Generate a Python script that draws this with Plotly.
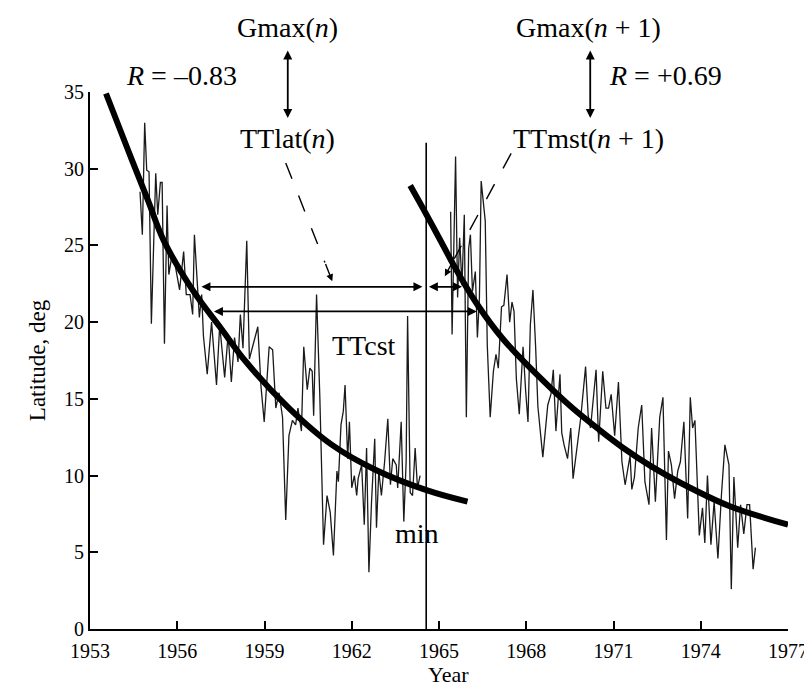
import plotly.graph_objects as go

# ---------------- data ----------------
cycle_a_year = [1954.72, 1954.80, 1954.88, 1954.95, 1955.03, 1955.11, 1955.26, 1955.33, 1955.42, 1955.48,
                1955.56, 1955.65, 1955.71, 1955.82, 1955.93, 1956.08, 1956.22, 1956.31, 1956.44, 1956.53,
                1956.59, 1956.69, 1956.76, 1956.84, 1956.90, 1957.03, 1957.18, 1957.35, 1957.46, 1957.63,
                1957.75, 1957.86, 1957.97, 1958.09, 1958.17, 1958.26, 1958.39, 1958.48, 1958.62, 1958.77,
                1958.88, 1958.99, 1959.16, 1959.28, 1959.39, 1959.50, 1959.62, 1959.73, 1959.84, 1959.96,
                1960.07, 1960.15, 1960.27, 1960.35, 1960.47, 1960.56, 1960.64, 1960.69, 1960.79, 1960.90,
                1961.03, 1961.15, 1961.26, 1961.37, 1961.49, 1961.54, 1961.63, 1961.71, 1961.77, 1961.86,
                1961.92, 1962.00, 1962.09, 1962.17, 1962.22, 1962.34, 1962.43, 1962.51, 1962.59, 1962.68,
                1962.79, 1962.85, 1962.93, 1963.02, 1963.13, 1963.24, 1963.33, 1963.41, 1963.53, 1963.58,
                1963.70, 1963.79, 1963.87, 1963.92, 1964.01, 1964.09, 1964.18, 1964.26, 1964.35]
cycle_a_lat = [28.5, 25.7, 33.0, 29.9, 29.8, 19.9, 29.7, 27.0, 29.1, 29.1,
               18.6, 27.6, 23.1, 24.4, 23.7, 22.1, 24.6, 21.8, 21.8, 20.5,
               25.7, 22.6, 20.3, 21.8, 19.1, 16.6, 20.0, 15.9, 19.8, 16.4,
               19.2, 16.1, 19.0, 17.4, 20.5, 18.3, 25.3, 17.6, 18.6, 19.7,
               15.8, 13.5, 18.4, 18.2, 14.4, 15.4, 13.8, 7.1, 12.6, 13.6,
               13.3, 14.4, 12.9, 18.4, 15.6, 17.0, 16.8, 13.9, 21.8, 15.3,
               5.5, 8.7, 7.6, 4.8, 10.3, 9.6, 13.3, 14.2, 15.9, 11.1,
               13.5, 9.2, 10.0, 8.7, 9.8, 10.7, 6.8, 11.8, 3.7, 8.3,
               12.4, 6.6, 10.3, 8.7, 10.9, 13.7, 9.4, 11.1, 10.7, 9.2,
               13.5, 7.0, 10.9, 20.4, 8.9, 8.7, 11.8, 9.2, 10.0]

cycle_b_year = [1965.40, 1965.45, 1965.57, 1965.64, 1965.71, 1965.79, 1965.87, 1965.94, 1966.02, 1966.08,
                1966.15, 1966.25, 1966.32, 1966.39, 1966.45, 1966.53, 1966.59, 1966.66, 1966.76, 1966.87,
                1966.96, 1967.04, 1967.15, 1967.23, 1967.34, 1967.43, 1967.51, 1967.58, 1967.66, 1967.76,
                1967.89, 1967.98, 1968.06, 1968.14, 1968.23, 1968.32, 1968.40, 1968.57, 1968.74, 1968.85,
                1968.93, 1969.02, 1969.16, 1969.22, 1969.30, 1969.42, 1969.53, 1969.61, 1969.76, 1969.87,
                1970.04, 1970.13, 1970.21, 1970.30, 1970.40, 1970.49, 1970.63, 1970.74, 1970.83, 1970.92,
                1971.04, 1971.17, 1971.29, 1971.40, 1971.57, 1971.63, 1971.72, 1971.85, 1971.97, 1972.08,
                1972.22, 1972.31, 1972.40, 1972.44, 1972.59, 1972.70, 1972.82, 1972.89, 1972.99, 1973.10,
                1973.21, 1973.30, 1973.42, 1973.55, 1973.64, 1973.72, 1973.80, 1973.95, 1974.06, 1974.14,
                1974.23, 1974.35, 1974.46, 1974.59, 1974.71, 1974.83, 1974.97, 1975.05, 1975.14, 1975.27,
                1975.37, 1975.48, 1975.59, 1975.68, 1975.80, 1975.88]
cycle_b_lat = [27.2, 19.2, 30.8, 21.6, 25.5, 22.4, 27.0, 13.8, 24.8, 25.7,
               22.0, 23.3, 19.0, 21.6, 29.2, 27.9, 26.6, 18.5, 13.8, 16.8,
               17.9, 17.0, 21.0, 21.1, 23.1, 20.0, 21.3, 20.7, 16.3, 14.0,
               18.4, 15.5, 13.5, 19.8, 22.1, 18.5, 14.5, 11.2, 14.6, 15.3,
               16.9, 12.9, 16.6, 12.8, 12.0, 11.1, 13.1, 9.8, 12.2, 13.7,
               17.1, 13.9, 13.1, 15.0, 16.9, 12.2, 16.8, 14.4, 14.4, 15.3,
               12.6, 16.1, 10.9, 9.4, 11.3, 9.1, 9.9, 13.1, 14.6, 9.6,
               8.1, 13.1, 10.3, 8.3, 13.8, 15.1, 5.8, 11.6, 10.7, 8.5,
               10.3, 10.9, 13.5, 7.2, 15.1, 13.1, 13.6, 6.1, 7.9, 5.6,
               10.0, 5.5, 8.3, 4.6, 8.7, 12.0, 10.7, 2.6, 9.9, 5.3,
               8.1, 6.2, 8.1, 8.1, 3.9, 5.3]

fit_a_year = [1953.55, 1954.29, 1955.00, 1955.54, 1956.56, 1957.50, 1958.37, 1959.84, 1961.32, 1962.79, 1964.57, 1965.98]
fit_a_lat = [34.9, 31.3, 27.9, 25.3, 22.0, 19.6, 17.4, 14.4, 12.0, 10.4, 9.05, 8.3]

fit_b_year = [1964.01, 1964.57, 1965.17, 1965.51, 1966.30, 1967.20, 1968.57, 1969.59, 1970.50, 1971.30, 1972.30, 1973.33, 1975.00, 1977.00]
fit_b_lat = [28.9, 27.0, 24.9, 23.7, 21.2, 18.9, 16.2, 14.4, 13.0, 11.85, 10.6, 9.5, 8.0, 6.8]

min_year = 1964.56          # cycle minimum (vertical line)
min_line_top = 31.7

x_ticks = [1953, 1956, 1959, 1962, 1965, 1968, 1971, 1974, 1977]
y_ticks = [0, 5, 10, 15, 20, 25, 30, 35]

# interval arrows (year ranges at given latitude)
ttlat_lat = 22.3
ttlat_span = (1956.78, 1964.43)
ttmst_span = (1964.60, 1965.79)
ttcst_lat = 20.7
ttcst_span = (1957.21, 1966.30)

gmax_n_year = 1959.80
gmax_n1_year = 1970.20

# ---------------- figure ----------------
FONT = "Liberation Serif"
L_MARGIN, R_MARGIN, T_MARGIN, B_MARGIN = 82, 24, 84, 66
fig = go.Figure()

fig.add_trace(go.Scatter(x=cycle_a_year, y=cycle_a_lat, mode="lines",
                         line=dict(color="#1a1a1a", width=1.3), hoverinfo="skip"))
fig.add_trace(go.Scatter(x=cycle_b_year, y=cycle_b_lat, mode="lines",
                         line=dict(color="#1a1a1a", width=1.3), hoverinfo="skip"))
fig.add_trace(go.Scatter(x=fit_a_year, y=fit_a_lat, mode="lines",
                         line=dict(color="black", width=6, shape="spline", smoothing=1.0), hoverinfo="skip"))
fig.add_trace(go.Scatter(x=fit_b_year, y=fit_b_lat, mode="lines",
                         line=dict(color="black", width=6, shape="spline", smoothing=1.0), hoverinfo="skip"))
fig.add_trace(go.Scatter(x=[min_year, min_year], y=[0, min_line_top], mode="lines",
                         line=dict(color="black", width=1.6), hoverinfo="skip"))

annotations = []


def double_arrow(x0, y0, x1, y1):
    annotations.append(dict(x=x1, y=y1, ax=x0, ay=y0, xref="x", yref="y", axref="x", ayref="y",
                            text="", showarrow=True, arrowhead=2, startarrowhead=2,
                            arrowside="end+start", arrowsize=1.0, startarrowsize=1.0,
                            arrowwidth=1.8, arrowcolor="black", standoff=0, startstandoff=0))


double_arrow(ttlat_span[0], ttlat_lat, ttlat_span[1], ttlat_lat)
double_arrow(ttmst_span[0], ttlat_lat, ttmst_span[1], ttlat_lat)
double_arrow(ttcst_span[0], ttcst_lat, ttcst_span[1], ttcst_lat)
double_arrow(gmax_n_year, 37.8, gmax_n_year, 33.3)
double_arrow(gmax_n1_year, 37.8, gmax_n1_year, 33.3)

# dashed pointer arrows
dashed = [((1959.73, 30.37), (1961.33, 22.67)),
          ((1967.48, 31.00), (1965.20, 22.99))]
plot_w = 812 - L_MARGIN - R_MARGIN
plot_h = 687 - T_MARGIN - B_MARGIN
px_per_year = plot_w / 24.0
px_per_lat = plot_h / 35.0
for (sx, sy), (tx, ty) in dashed:
    dxp = (tx - sx) * px_per_year
    dyp = (ty - sy) * px_per_lat
    L = (dxp ** 2 + dyp ** 2) ** 0.5
    f = 1 - 20.0 / L
    mx = sx + (tx - sx) * f
    my = sy + (ty - sy) * f
    fig.add_trace(go.Scatter(x=[sx, mx], y=[sy, my], mode="lines",
                             line=dict(color="black", width=1.4, dash="17px,18px"), hoverinfo="skip"))
    annotations.append(dict(x=tx, y=ty, ax=mx, ay=my, xref="x", yref="y", axref="x", ayref="y",
                            text="", showarrow=True, arrowhead=2, arrowsize=1.0, arrowwidth=1.4,
                            arrowcolor="black", standoff=0))

TXT = 28
# labels inside the data range (data coordinates)
labels_in = [
    (gmax_n_year, 32.0, "TTlat(<i>n</i>)"),
    (1970.13, 32.0, "TTmst(<i>n</i> + 1)"),
    (1962.42, 18.5, "TTcst"),
    (1964.25, 6.2, "min"),
]
for x, y, t in labels_in:
    annotations.append(dict(x=x, y=y, xref="x", yref="y", text=t, showarrow=False,
                            xanchor="center", yanchor="middle",
                            font=dict(family=FONT, size=TXT, color="black")))
# labels above the plot area (y in paper units)
labels_top = [
    (gmax_n_year, 1.121, "Gmax(<i>n</i>)"),
    (1956.13, 1.031, "<i>R</i> = \u20130.83"),
    (1970.13, 1.121, "Gmax(<i>n</i> + 1)"),
    (1972.78, 1.031, "<i>R</i> = +0.69"),
]
for x, y, t in labels_top:
    annotations.append(dict(x=x, y=y, xref="x", yref="paper", text=t, showarrow=False,
                            xanchor="center", yanchor="middle",
                            font=dict(family=FONT, size=TXT, color="black")))

# axis titles
annotations.append(dict(x=-0.075, y=0.5, xref="paper", yref="paper", text="Latitude, deg",
                        textangle=-90, showarrow=False, xanchor="center", yanchor="middle",
                        font=dict(family=FONT, size=23, color="black")))
annotations.append(dict(x=0.514, y=-0.0855, xref="paper", yref="paper", text="Year",
                        showarrow=False, xanchor="center", yanchor="middle",
                        font=dict(family=FONT, size=22, color="black")))

fig.update_layout(
    width=812, height=687,
    margin=dict(l=L_MARGIN, r=R_MARGIN, t=T_MARGIN, b=B_MARGIN),
    paper_bgcolor="white", plot_bgcolor="white",
    showlegend=False,
    annotations=annotations,
    font=dict(family=FONT, size=20, color="black"),
)
fig.update_xaxes(range=[1953, 1977], tickmode="array", tickvals=x_ticks,
                 ticks="inside", ticklen=8, tickwidth=2, tickcolor="black",
                 showline=True, linecolor="black", linewidth=2, showgrid=False, zeroline=False,
                 ticklabelstandoff=3,
                 tickfont=dict(family=FONT, size=20, color="black"))
fig.update_yaxes(range=[0, 35], tickmode="array", tickvals=y_ticks,
                 ticks="inside", ticklen=8, tickwidth=2, tickcolor="black",
                 showline=True, linecolor="black", linewidth=2, showgrid=False, zeroline=False,
                 tickfont=dict(family=FONT, size=20, color="black"))

fig.write_html("out.html")
